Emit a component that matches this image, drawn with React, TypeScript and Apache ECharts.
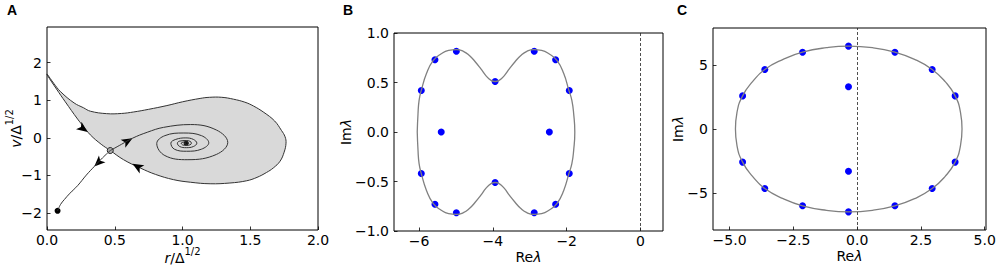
import React, { useEffect, useRef } from "react";
import * as echarts from "echarts";

// ---------- Panel A data (r/Δ^1/2, v/Δ^1/2) ----------
const boundaryA: [number, number][] = [
  [0.0, 1.7], [0.05, 1.45], [0.1, 1.23], [0.2, 0.93], [0.27, 0.8], [0.32, 0.71],
  [0.44, 0.645], [0.55, 0.65], [0.64, 0.69], [0.75, 0.76], [0.885, 0.86], [1.0, 0.96],
  [1.13, 1.05], [1.2, 1.08], [1.29, 1.08], [1.376, 1.03], [1.46, 0.95], [1.523, 0.85],
  [1.6, 0.68], [1.68, 0.45], [1.73, 0.2], [1.757, 0.03], [1.764, -0.14], [1.75, -0.38],
  [1.72, -0.62], [1.67, -0.8], [1.62, -0.92], [1.55, -1.05], [1.474, -1.14], [1.35, -1.2],
  [1.204, -1.22], [1.06, -1.18], [0.933, -1.11], [0.8, -0.97], [0.688, -0.8], [0.565, -0.58],
  [0.467, -0.336],
];
const stableA: [number, number][] = [
  [0.467, -0.336], [0.4, -0.17], [0.32, 0.08], [0.27, 0.3], [0.226, 0.5], [0.135, 0.96],
  [0.07, 1.3], [0.0, 1.68],
];
const spiralA: [number, number][] = [
  [0.467, -0.336], [0.55, -0.17], [0.63, -0.01], [0.74, 0.15], [0.86, 0.28], [1.06, 0.355],
  [1.25, 0.21], [1.334, -0.12], [1.25, -0.44], [1.04, -0.58], [0.87, -0.47], [0.81, -0.15],
  [0.87, 0.06], [1.01, 0.13], [1.14, 0.06], [1.194, -0.13], [1.14, -0.3], [1.03, -0.355],
  [0.94, -0.3], [0.914, -0.14], [0.95, -0.04], [1.025, 0.0], [1.08, -0.04], [1.106, -0.14],
  [1.08, -0.23], [1.028, -0.26], [0.98, -0.23], [0.962, -0.14], [0.98, -0.085], [1.027, -0.07],
  [1.055, -0.09], [1.066, -0.14], [1.055, -0.185], [1.027, -0.2], [1.0, -0.185], [0.99, -0.14],
  [1.027, -0.105], [1.046, -0.14], [1.027, -0.17], [1.012, -0.14], [1.027, -0.14],
];
const lowerBranchA: [number, number][] = [
  [0.467, -0.336], [0.41, -0.53], [0.349, -0.76], [0.29, -0.99], [0.226, -1.27],
  [0.17, -1.47], [0.128, -1.64], [0.1, -1.77], [0.078, -1.94],
];
// [r, v, arrow direction in degrees]
const arrowsA: [number, number, number][] = [
  [0.3, 0.16, -126],
  [0.631, -0.01, -60],
  [0.349, -0.76, 134],
  [0.631, -0.69, 60],
];
const saddleA: [number, number] = [0.467, -0.336];
const nodeA: [number, number] = [0.078, -1.94];
const focusA: [number, number] = [1.027, -0.14];
const xTicksA = [0, 0.5, 1, 1.5, 2];
const yTicksA = [-2, -1, 0, 1, 2];

// ---------- Panel B data ----------
const curveB: [number, number][] = [
  [-6.05, 0], [-6.03, 0.18], [-6.0, 0.32], [-5.94, 0.42], [-5.8, 0.59], [-5.62, 0.72],
  [-5.4, 0.79], [-5.2, 0.825], [-4.99, 0.833], [-4.8, 0.815], [-4.63, 0.77], [-4.48, 0.71],
  [-4.33, 0.64], [-4.18, 0.565], [-4.05, 0.522], [-3.94, 0.51], [-3.83, 0.522], [-3.7, 0.565],
  [-3.55, 0.64], [-3.4, 0.71], [-3.25, 0.77], [-3.08, 0.815],
  [-2.89, 0.833], [-2.68, 0.825], [-2.48, 0.79], [-2.26, 0.72], [-2.08, 0.59], [-1.94, 0.42],
  [-1.86, 0.32], [-1.81, 0.18], [-1.78, 0],
  [-1.81, -0.18], [-1.86, -0.32], [-1.94, -0.42], [-2.08, -0.59], [-2.26, -0.72],
  [-2.48, -0.79], [-2.68, -0.825], [-2.89, -0.833], [-3.08, -0.815], [-3.25, -0.77],
  [-3.4, -0.71], [-3.55, -0.64], [-3.7, -0.565], [-3.83, -0.522], [-3.94, -0.51],
  [-4.05, -0.522], [-4.18, -0.565], [-4.33, -0.64], [-4.48, -0.71],
  [-4.63, -0.77], [-4.8, -0.815], [-4.99, -0.833], [-5.2, -0.825], [-5.4, -0.79],
  [-5.62, -0.72], [-5.8, -0.59], [-5.94, -0.42], [-6.0, -0.32], [-6.03, -0.18], [-6.05, 0],
];
const dotsB: [number, number][] = [
  [-4.99, 0.815], [-5.57, 0.73], [-5.94, 0.42], [-5.4, 0], [-5.94, -0.42], [-5.57, -0.73],
  [-4.99, -0.815], [-3.94, 0.51], [-3.94, -0.51], [-2.88, 0.815], [-2.3, 0.73], [-1.93, 0.42],
  [-2.47, 0], [-1.93, -0.42], [-2.3, -0.73], [-2.88, -0.815],
];
const xTicksB = [-6, -4, -2, 0];
const yTicksB = [-1, -0.5, 0, 0.5, 1];

// ---------- Panel C data ----------
const curveC: [number, number][] = [
  [-4.77, 0], [-4.71, 1.3], [-4.49, 2.59], [-4.1, 3.7], [-3.62, 4.66], [-2.9, 5.45],
  [-2.14, 6.01], [-1.2, 6.36], [-0.34, 6.48], [0.6, 6.36], [1.48, 6.01], [2.25, 5.45],
  [2.94, 4.66], [3.45, 3.7], [3.84, 2.59], [4.05, 1.3], [4.11, 0],
  [4.05, -1.3], [3.84, -2.59], [3.45, -3.7], [2.94, -4.66], [2.25, -5.45], [1.48, -6.01],
  [0.6, -6.36], [-0.34, -6.48], [-1.2, -6.36], [-2.14, -6.01], [-2.9, -5.45], [-3.62, -4.66],
  [-4.1, -3.7], [-4.49, -2.59], [-4.71, -1.3], [-4.77, 0],
];
const dotsC: [number, number][] = [
  [-0.34, 6.48], [-2.14, 6.01], [-3.62, 4.66], [-4.49, 2.59], [-4.49, -2.59], [-3.62, -4.66],
  [-2.14, -6.01], [-0.34, -6.48], [-0.34, 3.3], [-0.34, -3.31], [1.48, 6.01], [2.94, 4.66],
  [3.84, 2.59], [3.84, -2.59], [2.94, -4.66], [1.48, -6.01],
];
const xTicksC = [-5, -2.5, 0, 2.5, 5];
const yTicksC = [-5, 0, 5];

const FONT = "DejaVu Sans";
const minus = (s: string) => s.replace("-", "\u2212");
const f0 = (v: number) => minus(String(v));
const f1 = (v: number) => minus(Number(v).toFixed(1));

const richName = {
  i: { fontStyle: "italic", fontSize: 14, fontFamily: FONT, color: "#000", lineHeight: 19, verticalAlign: "bottom" },
  n: { fontSize: 14, fontFamily: FONT, color: "#000", lineHeight: 19, verticalAlign: "bottom" },
  s: { fontSize: 10, fontFamily: FONT, color: "#000", verticalAlign: "top" },
};

function axis(
  kind: "x" | "y",
  gridIndex: number,
  min: number,
  max: number,
  ticks: number[],
  fmt: (v: number) => string,
  name: string,
  nameGap: number
) {
  return {
    type: "value",
    gridIndex,
    min,
    max,
    name,
    nameLocation: "middle",
    nameGap,
    nameMoveOverlap: false,
    nameTextStyle: { fontFamily: FONT, fontSize: 14, color: "#000", rich: richName },
    axisLine: { show: false, onZero: false },
    splitLine: { show: false },
    axisTick: {
      show: true,
      inside: true,
      length: 3.5,
      customValues: ticks,
      lineStyle: { color: "#000", width: 0.8 },
    },
    axisLabel: {
      show: true,
      customValues: ticks,
      formatter: (v: number) => fmt(v),
      fontFamily: FONT,
      fontSize: 14,
      color: "#000",
      margin: kind === "x" ? 4 : 5,
      lineHeight: kind === "x" ? 12 : undefined,
      showMinLabel: true,
      showMaxLabel: true,
    },
  };
}

export default function App() {
  const ref = useRef<HTMLDivElement>(null);
  useEffect(() => {
    if (!ref.current) return;
    const chart = echarts.init(ref.current, undefined, { renderer: "svg" });
    const regionA = [...boundaryA, ...stableA.slice(1)];
    const curveStyleA = { color: "#333", width: 1 };
    const grayCurve = { color: "#808080", width: 1.3 };
    const dashed = {
      silent: true,
      symbol: "none",
      label: { show: false },
      lineStyle: { color: "#222", type: [3, 2], width: 0.8 },
      data: [{ xAxis: 0 }],
    };
    const gridBase = {
      show: true,
      borderColor: "#000",
      borderWidth: 1,
      backgroundColor: "transparent",
      containLabel: false,
      outerBoundsMode: "none",
    };
    const option: any = {
      animation: false,
      backgroundColor: "#fff",
      grid: [
        { ...gridBase, left: 47, top: 27, width: 271, height: 203 },
        { ...gridBase, left: 394, top: 33, width: 269, height: 198 },
        { ...gridBase, left: 713, top: 28, width: 273, height: 202 },
      ],
      xAxis: [
        axis("x", 0, 0, 2, xTicksA, f1, "{i|r}{n|/Δ}{s|1/2}", 16),
        axis("x", 1, -6.68, 0.61, xTicksB, f0, "{n|Re}{i|λ}", 14),
        axis("x", 2, -5.65, 5.05, xTicksC, f1, "{n|Re}{i|λ}", 14),
      ],
      yAxis: [
        axis("y", 0, -2.45, 2.95, yTicksA, f0, "{i|v}{n|/Δ}{s|1/2}", 24),
        axis("y", 1, -1, 1, yTicksB, f1, "{n|Im}{i|λ}", 41),
        axis("y", 2, -7.9, 7.9, yTicksC, f0, "{n|Im}{i|λ}", 28),
      ],
      graphic: [
        { type: "text", left: 7, top: 3, style: { text: "A", font: 'bold 14px "Liberation Sans"', fill: "#000" } },
        { type: "text", left: 343, top: 3, style: { text: "B", font: 'bold 14px "Liberation Sans"', fill: "#000" } },
        { type: "text", left: 677, top: 3, style: { text: "C", font: 'bold 14px "Liberation Sans"', fill: "#000" } },
      ],
      series: [
        {
          type: "custom",
          xAxisIndex: 0,
          yAxisIndex: 0,
          silent: true,
          data: [[0, 0]],
          renderItem: (_p: any, api: any) => {
            const pts = regionA.map((p) => api.coord(p));
            return {
              type: "polygon",
              shape: { points: pts, smooth: 0.4 },
              style: { fill: "#d9d9d9", stroke: "#333", lineWidth: 1 },
            };
          },
        },
        { type: "line", xAxisIndex: 0, yAxisIndex: 0, data: spiralA, smooth: 0.4, symbol: "none", lineStyle: curveStyleA, silent: true },
        { type: "line", xAxisIndex: 0, yAxisIndex: 0, data: lowerBranchA, smooth: 0.4, symbol: "none", lineStyle: curveStyleA, silent: true },
        {
          type: "scatter",
          xAxisIndex: 0,
          yAxisIndex: 0,
          silent: true,
          symbol: "arrow",
          symbolSize: [7, 11],
          data: arrowsA.map((a) => ({ value: [a[0], a[1]], symbolRotate: a[2] })),
          itemStyle: { color: "#000", opacity: 1 },
        },
        {
          type: "scatter",
          xAxisIndex: 0,
          yAxisIndex: 0,
          silent: true,
          data: [
            { value: saddleA, symbolSize: 6, itemStyle: { color: "#aaa", borderColor: "#222", borderWidth: 1, opacity: 1 } },
            { value: nodeA, symbolSize: 6, itemStyle: { color: "#000", opacity: 1 } },
            { value: focusA, symbolSize: 5, itemStyle: { color: "#000", opacity: 1 } },
          ],
        },
        { type: "line", xAxisIndex: 1, yAxisIndex: 1, data: curveB, smooth: 0.5, symbol: "none", lineStyle: grayCurve, silent: true },
        {
          type: "scatter",
          xAxisIndex: 1,
          yAxisIndex: 1,
          silent: true,
          data: dotsB,
          symbolSize: 7,
          itemStyle: { color: "#0000ff", opacity: 1 },
          markLine: dashed,
        },
        { type: "line", xAxisIndex: 2, yAxisIndex: 2, data: curveC, smooth: 0.5, symbol: "none", lineStyle: grayCurve, silent: true },
        {
          type: "scatter",
          xAxisIndex: 2,
          yAxisIndex: 2,
          silent: true,
          data: dotsC,
          symbolSize: 7,
          itemStyle: { color: "#0000ff", opacity: 1 },
          markLine: dashed,
        },
      ],
    };
    chart.setOption(option);
    return () => chart.dispose();
  }, []);
  return (
    <div
      ref={ref}
      style={{ position: "fixed", left: 0, top: 0, width: 997, height: 265, background: "#fff" }}
    />
  );
}
